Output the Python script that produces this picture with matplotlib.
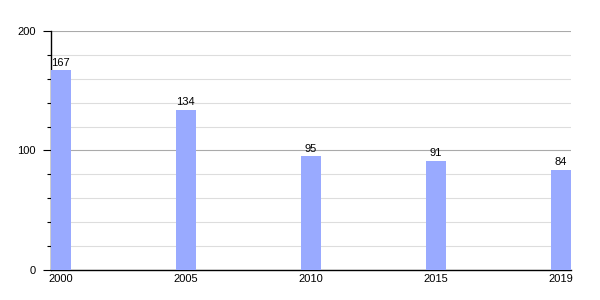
import numpy as np
import matplotlib.pyplot as plt
from matplotlib.ticker import MultipleLocator

years = ["2000", "2005", "2010", "2015", "2019"]
values = [167, 134, 95, 91, 84]

plt.rcParams['font.family'] = ['Liberation Sans', 'DejaVu Sans']

fig = plt.figure(figsize=(6, 3), dpi=100)
ax = fig.add_axes([0.085, 0.1, 0.8667, 0.7967])

width = 0.16
x = np.arange(len(years))
ax.bar(x, values, width=width, align='edge', color='#99aaff', zorder=3)

for xi, v in zip(x, values):
    ax.annotate(str(v), (xi + width / 2, v), xytext=(-0.5, 2), textcoords='offset points',
                ha='center', va='bottom', fontsize=8, zorder=4)

ax.set_xlim(0, len(years) - 1 + width)
ax.set_ylim(0, 200)
ax.set_xticks(x + width / 2)
ax.set_xticklabels(years)
ax.yaxis.set_major_locator(MultipleLocator(100))
ax.yaxis.set_minor_locator(MultipleLocator(20))

ax.grid(which='major', axis='y', color='#aaaaaa', linewidth=0.8, zorder=1)
ax.grid(which='minor', axis='y', color='#dddddd', linewidth=0.8, zorder=0)

for s in ['top', 'right']:
    ax.spines[s].set_visible(False)
ax.spines['left'].set_linewidth(1)
ax.spines['bottom'].set_linewidth(1)

ax.tick_params(axis='x', length=0, pad=3, labelsize=8)
ax.tick_params(axis='y', which='major', length=6, width=0.8, pad=5, labelsize=8)
ax.tick_params(axis='y', which='minor', length=3, width=0.8)

fig.savefig("out.png", dpi=100)
